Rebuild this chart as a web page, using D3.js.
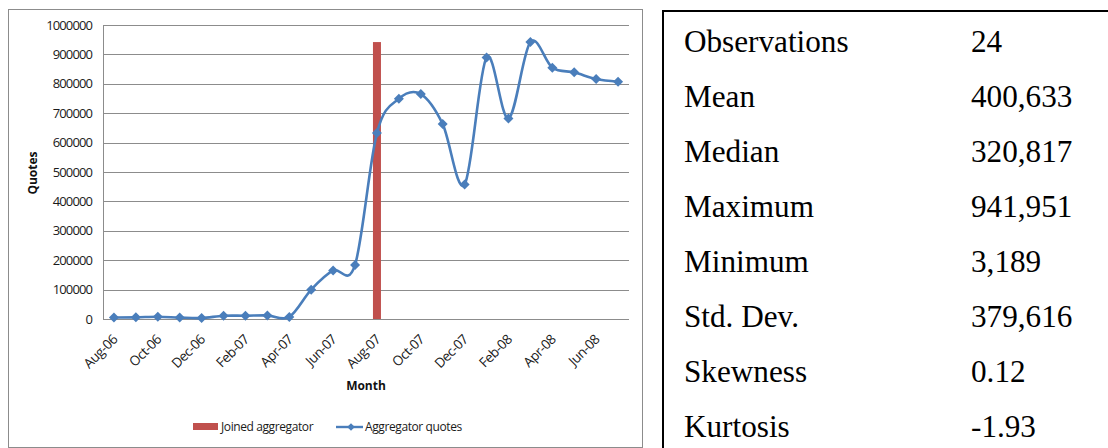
<!DOCTYPE html>
<html>
<head>
<meta charset="utf-8">
<script src="https://cdn.jsdelivr.net/npm/d3@7"></script>
<style>
  html, body { margin: 0; padding: 0; background: #fff; }
  svg { display: block; }
</style>
</head>
<body>
<svg id="chart" width="1108" height="448"></svg>
<script>
// ---- data ----
const months = ['Aug-06','Sep-06','Oct-06','Nov-06','Dec-06','Jan-07','Feb-07','Mar-07','Apr-07','May-07','Jun-07','Jul-07',
                'Aug-07','Sep-07','Oct-07','Nov-07','Dec-07','Jan-08','Feb-08','Mar-08','Apr-08','May-08','Jun-08','Jul-08'];
const quotes = [5200, 5600, 7900, 4800, 3189, 10900, 11200, 12300, 7100, 99800, 165000, 184000,
                633000, 749000, 765000, 663000, 457634, 889618, 682000, 941951, 855000, 839000, 816000, 807000];
const joinedMonths = ['Aug-07'];
const joinedValues = [941951];
const yTicks = [0, 100000, 200000, 300000, 400000, 500000, 600000, 700000, 800000, 900000, 1000000];
const xTickLabels = ['Aug-06','Oct-06','Dec-06','Feb-07','Apr-07','Jun-07','Aug-07','Oct-07','Dec-07','Feb-08','Apr-08','Jun-08'];
const statLabels = ['Observations','Mean','Median','Maximum','Minimum','Std. Dev.','Skewness','Kurtosis'];
const statValues = ['24','400,633','320,817','941,951','3,189','379,616','0.12','-1.93'];
const legendLabels = ['Joined aggregator','Aggregator quotes'];

// ---- layout ----
const svg = d3.select('#chart');
const plot = {left: 103, right: 629, top: 25, bottom: 319};
const sansFont = "'Open Sans', 'Noto Sans', sans-serif";
const lineColor = '#4A7EBB';
const barColor = '#C0504D';
const gridColor = '#8C8C8C';

// chart frame
svg.append('rect').attr('x', 8.5).attr('y', 9.5).attr('width', 634).attr('height', 438)
  .attr('fill', '#fff').attr('stroke', '#8C8C8C').attr('stroke-width', 1);

const x = d3.scaleBand().domain(months).range([plot.left, plot.right]).paddingInner(0).paddingOuter(0);
const y = d3.scaleLinear().domain([0, 1000000]).range([plot.bottom, plot.top]);
const cx = m => x(m) + x.bandwidth() / 2;

// y axis with gridlines
const yAxis = d3.axisLeft(y).tickValues(yTicks).tickFormat(d3.format('d'))
  .tickSize(-(plot.right - plot.left)).tickPadding(11);
const gy = svg.append('g').attr('transform', `translate(${plot.left},0)`).call(yAxis);
gy.select('.domain').remove();
gy.selectAll('.tick line').attr('stroke', gridColor).attr('stroke-width', 1).attr('shape-rendering', 'crispEdges');
gy.selectAll('.tick text').attr('font-family', sansFont).attr('font-size', 13)
  .attr('letter-spacing', '-0.9px').attr('fill', '#1a1a1a');
// vertical axis line
svg.append('line').attr('x1', plot.left + 0.5).attr('x2', plot.left + 0.5)
  .attr('y1', plot.top).attr('y2', plot.bottom).attr('stroke', gridColor);

// x axis labels (every other month)
const xAxis = d3.axisBottom(x).tickValues(xTickLabels).tickSize(0).tickPadding(0);
const gx = svg.append('g').attr('transform', `translate(0,${plot.bottom})`).call(xAxis);
gx.select('.domain').remove();
gx.selectAll('.tick text')
  .attr('font-family', sansFont).attr('font-size', 13.5).attr('letter-spacing', '-0.5px').attr('fill', '#1a1a1a')
  .attr('text-anchor', 'end')
  .attr('transform', 'translate(1,18) rotate(-45)')
  .attr('dy', '0.35em').attr('y', 0).attr('x', 0);

// axis titles
svg.append('text').attr('x', 366).attr('y', 390).attr('text-anchor', 'middle')
  .attr('font-family', sansFont).attr('font-size', 12).attr('font-weight', 'bold').attr('fill', '#111')
  .text('Month');
svg.append('text').attr('transform', 'translate(37,173) rotate(-90)').attr('text-anchor', 'middle')
  .attr('font-family', sansFont).attr('font-size', 12).attr('font-weight', 'bold').attr('fill', '#111')
  .text('Quotes');

// bar
const barW = 8;
svg.append('g').selectAll('rect').data(joinedMonths.map((m, i) => ({m, v: joinedValues[i]})))
  .join('rect')
  .attr('x', d => cx(d.m) - barW / 2).attr('width', barW)
  .attr('y', d => y(d.v)).attr('height', d => y(0) - y(d.v))
  .attr('fill', barColor);

// line
const pts = months.map((m, i) => ({m, v: quotes[i]}));
const line = d3.line().x(d => cx(d.m)).y(d => y(d.v)).curve(d3.curveCardinal.tension(0));
svg.append('path').datum(pts).attr('d', line)
  .attr('fill', 'none').attr('stroke', lineColor).attr('stroke-width', 2.6);

const diamond = (s) => `M0,${-s}L${s},0L0,${s}L${-s},0Z`;
svg.append('g').selectAll('path').data(pts).join('path')
  .attr('transform', d => `translate(${cx(d.m)},${y(d.v)})`)
  .attr('d', diamond(5)).attr('fill', lineColor);

// legend
const lg = svg.append('g').attr('font-family', sansFont).attr('font-size', 12).attr('letter-spacing', '-0.4px').attr('fill', '#1a1a1a');
lg.append('rect').attr('x', 193).attr('y', 423).attr('width', 25).attr('height', 7).attr('fill', barColor);
lg.append('text').attr('x', 221).attr('y', 431).text(legendLabels[0]);
lg.append('line').attr('x1', 336).attr('x2', 363).attr('y1', 427).attr('y2', 427)
  .attr('stroke', lineColor).attr('stroke-width', 2.4);
lg.append('path').attr('transform', 'translate(351,427)').attr('d', diamond(3.8)).attr('fill', lineColor);
lg.append('text').attr('x', 365).attr('y', 431).text(legendLabels[1]);

// statistics table
const tbl = svg.append('g');
tbl.append('line').attr('x1', 663).attr('x2', 1108).attr('y1', 11).attr('y2', 11)
  .attr('stroke', '#000').attr('stroke-width', 2);
tbl.append('line').attr('x1', 663).attr('x2', 663).attr('y1', 10).attr('y2', 448)
  .attr('stroke', '#000').attr('stroke-width', 2);
const rowY = d3.scalePoint().domain(statLabels).range([52, 437]);
const serif = "'Times New Roman', 'Liberation Serif', serif";
tbl.selectAll('text.lab').data(statLabels).join('text').attr('class', 'lab')
  .attr('x', 684).attr('y', d => rowY(d)).attr('font-family', serif).attr('font-size', 31.2).attr('fill', '#000')
  .text(d => d);
tbl.selectAll('text.val').data(statLabels).join('text').attr('class', 'val')
  .attr('x', 971).attr('y', d => rowY(d)).attr('font-family', serif).attr('font-size', 31.2).attr('fill', '#000')
  .text((d, i) => statValues[i]);
</script>
</body>
</html>
